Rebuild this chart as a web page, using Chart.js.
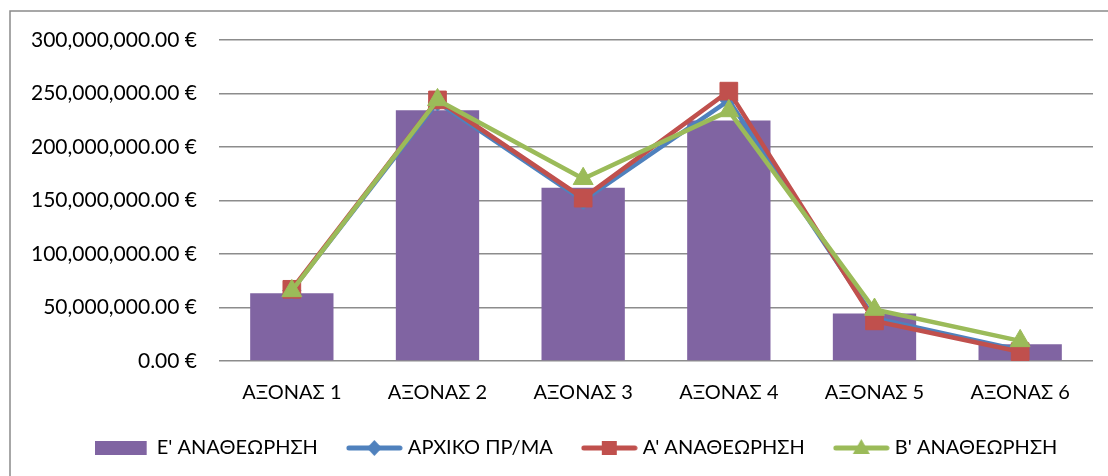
<!DOCTYPE html>
<html>
<head>
<meta charset="utf-8">
<script src="https://cdn.jsdelivr.net/npm/chart.js@4"></script>
</head>
<body style="margin:0;padding:0;background:#fff">
<div style="position:relative;width:1108px;height:476px"><canvas id="canvas"></canvas></div>
<script>
const categories = ['ΑΞΟΝΑΣ 1','ΑΞΟΝΑΣ 2','ΑΞΟΝΑΣ 3','ΑΞΟΝΑΣ 4','ΑΞΟΝΑΣ 5','ΑΞΟΝΑΣ 6'];
const revisionE = [63.4e6, 234.4e6, 161.9e6, 224.7e6, 44.4e6, 15.6e6];
const initialPlan = [66e6, 242e6, 150e6, 243.5e6, 40e6, 10e6];
const revisionA = [67e6, 244e6, 152.2e6, 252.2e6, 37.5e6, 8.7e6];
const revisionB = [65.5e6, 244e6, 170.3e6, 233.7e6, 48.1e6, 18.8e6];
const yTicks = [0, 50e6, 100e6, 150e6, 200e6, 250e6, 300e6];

const FONT = 'Lato';
const PURPLE = '#8064A2', BLUE = '#4F81BD', RED = '#C0504D', GREEN = '#9BBB59';

// legend symbol: line with marker, or a plain box for the bars
function legendIcon(color, marker) {
    let c = document.createElement('canvas');
    c.width = 57; c.height = 20;
    let g = c.getContext('2d');
    g.fillStyle = color; g.strokeStyle = color;
    if (!marker) {
        g.fillRect(0, 3, 52, 14);
        return c;
    }
    g.lineWidth = 5; g.lineCap = 'round';
    g.beginPath(); g.moveTo(3, 10); g.lineTo(54, 10); g.stroke();
    g.beginPath();
    if (marker === 'rect') g.rect(21, 3, 15, 14);
    if (marker === 'rectRot') { g.moveTo(28.5, 2); g.lineTo(36, 10); g.lineTo(28.5, 18); g.lineTo(21, 10); g.closePath(); }
    if (marker === 'triangle') { g.moveTo(28.5, 1); g.lineTo(37, 16); g.lineTo(20, 16); g.closePath(); }
    g.fill();
    return c;
}

const frame = {
    id:'frame',
    beforeDraw(chart) {
        let ctx = chart.ctx;
        ctx.save();
        ctx.fillStyle = '#fff';
        ctx.fillRect(0, 0, chart.width, chart.height);
        ctx.strokeStyle = '#8a8a8a';
        ctx.lineWidth = 1.5;
        ctx.strokeRect(10, 11, 1200, 600);
        ctx.restore();
    },
    afterLayout(chart) {
        // legend row sits a little right of centre in the original
        chart.legend.left += 32;
        chart.legend.right += 32;
    }
};

const lineSet = (label, data, color, style, radius, order) => ({
    type:'line', label, data, order,
    borderColor:color, backgroundColor:color, borderWidth:4.5,
    pointStyle:style, pointRadius:radius, pointBorderWidth:1,
    pointBackgroundColor:color, pointBorderColor:color, tension:0
});

const icons = [legendIcon(PURPLE), legendIcon(BLUE,'rectRot'), legendIcon(RED,'rect'), legendIcon(GREEN,'triangle')];

new Chart(document.getElementById('canvas'), {
    type:'bar',
    data:{
        labels:categories,
        datasets:[
            {type:'bar', label:"Ε' ΑΝΑΘΕΩΡΗΣΗ", data:revisionE, order:4, backgroundColor:PURPLE,
                categoryPercentage:1, barPercentage:0.572},
            lineSet('ΑΡΧΙΚΟ ΠΡ/ΜΑ', initialPlan, BLUE, 'rectRot', 9, 3),
            lineSet("Α' ΑΝΑΘΕΩΡΗΣΗ", revisionA, RED, 'rect', 12.5, 2),
            lineSet("Β' ΑΝΑΘΕΩΡΗΣΗ", revisionB, GREEN, 'triangle', 11.5, 1)
        ]
    },
    options:{
        maintainAspectRatio:false,
        responsive:true,
        animation:false,
        layout:{padding:{top:40, right:15, bottom:8, left:0}},
        plugins:{
            tooltip:{enabled:false},
            legend:{
                position:'bottom',
                labels:{
                    usePointStyle:true, pointStyleWidth:47, padding:33,
                    color:'#000', font:{family:FONT, size:20},
                    generateLabels:(chart)=>chart.data.datasets.map((d,i)=>({
                        text:d.label, pointStyle:icons[i], datasetIndex:i,
                        fillStyle:d.backgroundColor, strokeStyle:d.backgroundColor, lineWidth:0, hidden:false
                    }))
                }
            }
        },
        scales:{
            x:{
                grid:{display:false, drawTicks:false},
                border:{display:false},
                ticks:{color:'#000', font:{family:FONT, size:20}, padding:20},
                afterFit:(scale)=>{ scale.height = 44; }
            },
            y:{
                min:0, max:300e6,
                afterBuildTicks:(scale)=>{ scale.ticks = yTicks.map(v=>({value:v})); },
                grid:{color:'#8c8c8c', lineWidth:1.5, drawTicks:false},
                border:{display:false},
                ticks:{color:'#000', font:{family:FONT, size:21}, padding:22,
                    callback:(v)=>v.toLocaleString('en-US',{minimumFractionDigits:2, maximumFractionDigits:2})+' €'},
                afterFit:(scale)=>{ scale.width = 219; }
            }
        }
    },
    plugins:[frame]
});
</script>
</body>
</html>
